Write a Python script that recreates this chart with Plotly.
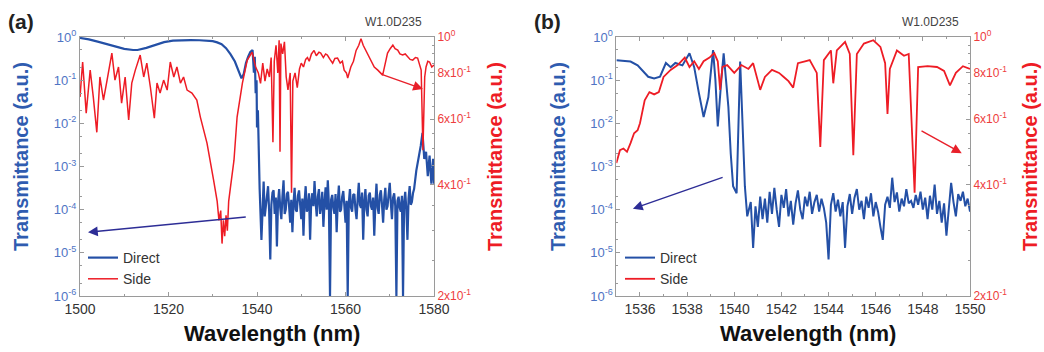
import plotly.graph_objects as go
import numpy as np

# ---------------- Panel (a) data ----------------
wl_a_direct = [1500, 1502, 1504, 1506, 1508, 1510, 1512, 1513, 1515, 1517, 1519, 1521, 1523, 1525,
               1527, 1529, 1530, 1531, 1532, 1533, 1534, 1535, 1535.8, 1536.5, 1537, 1537.5, 1538,
               1538.5, 1539, 1539.3, 1539.5, 1539.7, 1539.9, 1540.0, 1540.2, 1540.4, 1540.6,
               1541.0, 1541.25, 1541.5, 1541.75, 1542.0, 1542.25, 1542.5, 1542.75,
               1543.0, 1543.25, 1543.5, 1543.75, 1544.0, 1544.25, 1544.5, 1544.75,
               1545.0, 1545.25, 1545.5, 1545.75, 1546.0, 1546.25, 1546.5, 1546.75,
               1547.0, 1547.25, 1547.5, 1547.75, 1548.0, 1548.25, 1548.5, 1548.75,
               1549.0, 1549.25, 1549.5, 1549.75, 1550.0, 1550.25, 1550.5, 1550.75,
               1551.0, 1551.25, 1551.5, 1551.75, 1552.0, 1552.25, 1552.5, 1552.75,
               1553.0, 1553.25, 1553.5, 1553.75, 1554.0, 1554.25, 1554.5, 1554.75,
               1555.0, 1555.25, 1555.5, 1555.75, 1556.0, 1556.25, 1556.5, 1556.75,
               1557.0, 1557.25, 1557.5, 1557.75, 1558.0, 1558.25, 1558.5, 1558.75,
               1559.0, 1559.25, 1559.5, 1559.75, 1560.0, 1560.25, 1560.5, 1560.75,
               1561.0, 1561.25, 1561.5, 1561.75, 1562.0, 1562.25, 1562.5, 1562.75,
               1563.0, 1563.25, 1563.5, 1563.75, 1564.0, 1564.25, 1564.5, 1564.75,
               1565.0, 1565.25, 1565.5, 1565.75, 1566.0, 1566.25, 1566.5, 1566.75,
               1567.0, 1567.25, 1567.5, 1567.75, 1568.0, 1568.25, 1568.5, 1568.75,
               1569.0, 1569.25, 1569.5, 1569.75, 1570.0, 1570.25, 1570.5, 1570.75,
               1571.0, 1571.25, 1571.5, 1571.75, 1572.0, 1572.25, 1572.5, 1572.75,
               1573.0, 1573.25, 1573.5, 1573.75, 1574.0, 1574.25, 1574.5, 1574.75,
               1575.0, 1575.25, 1575.5,
               1576.0, 1576.5, 1577.0, 1577.4, 1577.8, 1578.2, 1578.6, 1579.0, 1579.4, 1579.8, 1580.0]
t_a_direct = [0.95, 0.88, 0.78, 0.68, 0.60, 0.53, 0.50, 0.50, 0.56, 0.66, 0.76, 0.82, 0.85, 0.85,
              0.84, 0.82, 0.80, 0.75, 0.68, 0.55, 0.40, 0.27, 0.17, 0.11, 0.14, 0.25, 0.35,
              0.45, 0.50, 0.15, 0.35, 0.05, 0.10, 0.008, 0.02, 8e-4, 3e-4,
              2.0e-5, 1.6e-4, 4.5e-4, 7e-5, 1.2e-4, 2.2e-4, 3.5e-4, 9e-5,
              7e-6, 1.3e-4, 2.5e-4, 2.8e-4, 8e-5, 1.9e-4, 1.4e-5, 1.5e-4,
              3.0e-4, 1.1e-4, 6e-5, 2.0e-4, 4.8e-4, 8e-5, 1.0e-4, 2.3e-4,
              2.6e-4, 1.2e-4, 5e-5, 1.7e-4, 3e-5, 1.4e-4, 3.2e-4, 1.0e-4,
              9e-5, 2.1e-4, 2.8e-4, 1.3e-4, 6e-5, 1.8e-4, 2.5e-5, 1.5e-4,
              3.5e-4, 9e-5, 1.1e-4, 2.4e-4, 2e-5, 1.6e-4, 2.4e-4, 1.2e-4,
              4.6e-4, 1.5e-4, 7e-5, 2.0e-4, 3.0e-4, 8e-5, 1.2e-4, 2.6e-4,
              4e-5, 1.4e-4, 3.3e-4, 1.0e-4, 4.8e-4, 1.3e-4, 1e-6, 1.7e-4,
              2.2e-4, 1.1e-4, 8e-5, 2.3e-4, 3e-5, 1.5e-4, 3.6e-4, 9e-5,
              1.0e-4, 2.0e-4, 2.7e-4, 1.2e-4, 5e-5, 1.6e-4, 1e-6, 1.4e-4,
              3.0e-4, 1.1e-4, 9e-5, 2.2e-4, 2.3e-4, 1.0e-4, 6e-5, 1.8e-4,
              4.2e-4, 1.3e-4, 1.1e-4, 2.5e-4, 2e-5, 1.5e-4, 3.0e-4, 1.0e-4,
              7e-5, 2.1e-4, 2.5e-4, 1.2e-4, 1.0e-4, 1.9e-4, 2.5e-5, 1.4e-4,
              4.0e-4, 1.1e-4, 8e-5, 2.2e-4, 2.8e-4, 1.3e-4, 5e-5, 1.7e-4,
              3.2e-4, 1.0e-4, 1.2e-4, 2.3e-4, 4.2e-4, 1.4e-4, 6e-5, 1.9e-4,
              2.4e-4, 1.2e-4, 1e-6, 1.6e-4, 2.0e-4, 1.1e-4, 9e-5, 2.1e-4,
              1e-6, 1.5e-4, 2.6e-4, 1.0e-4, 2e-5, 1.8e-4, 3.5e-4, 1.3e-4,
              1.5e-4, 2.4e-4, 3.0e-4,
              8e-4, 1.5e-3, 3e-3, 6e-3, 1.5e-3, 2.2e-3, 6e-4, 1.8e-3, 4e-4, 1.5e-3, 4e-4]

wl_a_side = [1500.0, 1500.6, 1501.4, 1502.3, 1503.0, 1503.8, 1504.5, 1505.3, 1506.0, 1507.2, 1507.9,
             1508.7, 1509.4, 1510.2, 1511.0, 1511.7, 1512.5, 1513.6, 1514.4, 1515.1, 1515.9, 1516.8,
             1517.4, 1518.1, 1518.9, 1519.7, 1520.4, 1521.2, 1521.9, 1522.7, 1523.4, 1524.2, 1525.3,
             1526.4, 1527.2, 1528.7, 1530.2, 1531.0, 1531.4, 1531.8, 1532.1, 1532.4, 1532.7, 1533.0,
             1533.3, 1533.6, 1534.0, 1534.8, 1535.5, 1536.7, 1537.8, 1538.9, 1539.7,
             1540.3, 1540.8, 1541.3, 1541.8, 1542.3, 1542.8, 1543.2, 1543.6, 1543.9, 1544.3, 1544.7,
             1545.0, 1545.2, 1545.4, 1545.8, 1546.2, 1546.6, 1547.0, 1547.5, 1547.8, 1548.1, 1548.6,
             1549.1, 1549.6,
             1550.0, 1550.5, 1551.0, 1551.4, 1551.8, 1552.3, 1552.9, 1553.4, 1554.0, 1554.4, 1555.0,
             1555.5, 1555.9, 1556.5, 1557.1, 1557.6, 1558.2, 1558.8, 1559.3, 1559.7, 1560.2, 1560.5,
             1561.2, 1561.8, 1562.4, 1563.0, 1563.5, 1564.0, 1564.6, 1565.2, 1565.8, 1566.5, 1567.3,
             1567.9, 1568.4, 1569.0, 1569.5, 1570.1, 1570.7, 1571.2, 1571.8, 1572.3, 1572.9, 1573.5,
             1574.1, 1574.6, 1575.2, 1575.8, 1576.3, 1576.8, 1577.1, 1577.5, 1577.9, 1578.2, 1578.6,
             1579.0, 1579.5, 1580.0]
s_a_side = [0.689, 0.856, 0.623, 0.814, 0.689, 0.553, 0.780, 0.676, 0.751, 0.905, 0.765,
            0.830, 0.663, 0.780, 0.597, 0.751, 0.814, 0.894, 0.780, 0.850, 0.733, 0.604,
            0.751, 0.706, 0.765, 0.719, 0.856, 0.780, 0.830, 0.751, 0.780, 0.719, 0.706,
            0.676, 0.608, 0.517, 0.410, 0.360, 0.320, 0.340, 0.277, 0.320, 0.290, 0.330,
            0.300, 0.360, 0.393, 0.465, 0.608, 0.751, 0.866, 0.910, 0.830,
            0.800, 0.750, 0.850, 0.760, 0.820, 0.780, 0.880, 0.520, 0.860, 0.950, 0.800,
            0.980, 0.490, 0.960, 0.900, 0.970, 0.780, 0.720, 0.800, 0.380, 0.760, 0.800,
            0.730, 0.820,
            0.850, 0.830, 0.870, 0.880, 0.860, 0.900, 0.920, 0.890, 0.910, 0.905, 0.880,
            0.900, 0.894, 0.870, 0.850, 0.875, 0.877, 0.850, 0.860, 0.814, 0.800, 0.775,
            0.830, 0.860, 0.920, 0.950, 0.990, 0.950, 0.920, 0.890, 0.856, 0.830, 0.814,
            0.800, 0.789, 0.850, 0.905, 0.930, 0.951, 0.930, 0.922, 0.900, 0.894, 0.900,
            0.883, 0.870, 0.866, 0.880, 0.877, 0.840, 0.814, 0.495, 0.780, 0.830, 0.860,
            0.856, 0.830, 0.840]

# ---------------- Panel (b) data ----------------
wl_b_direct = [1535.0, 1535.3, 1535.6, 1535.9, 1536.1, 1536.35, 1536.6, 1536.85, 1537.1, 1537.3,
               1537.5, 1537.8, 1538.1, 1538.3, 1538.5, 1538.7, 1538.9, 1539.1, 1539.2, 1539.3,
               1539.45, 1539.55, 1539.65, 1539.75, 1539.85, 1539.95, 1540.1, 1540.25, 1540.35,
               1540.45, 1540.55,
               1540.7, 1540.8, 1540.9,
               1541.0, 1541.1, 1541.2, 1541.3, 1541.4, 1541.5, 1541.6, 1541.7, 1541.8, 1541.9,
               1542.0, 1542.1, 1542.2, 1542.3, 1542.4, 1542.5, 1542.6, 1542.7, 1542.8, 1542.9,
               1543.0, 1543.1, 1543.2, 1543.3, 1543.4, 1543.5, 1543.6, 1543.7, 1543.8, 1543.9,
               1544.0, 1544.1, 1544.2, 1544.3, 1544.4, 1544.5, 1544.6, 1544.7, 1544.8, 1544.9,
               1545.0, 1545.1, 1545.2, 1545.3, 1545.4, 1545.5, 1545.6, 1545.7, 1545.8, 1545.9,
               1546.0, 1546.1, 1546.2, 1546.3, 1546.4, 1546.5, 1546.6, 1546.7, 1546.8, 1546.9,
               1547.0, 1547.1, 1547.2, 1547.3, 1547.4, 1547.5, 1547.6, 1547.7, 1547.8, 1547.9,
               1548.0, 1548.1, 1548.2, 1548.3, 1548.4, 1548.5, 1548.6, 1548.7, 1548.8, 1548.9,
               1549.0, 1549.1, 1549.2, 1549.3, 1549.4, 1549.5, 1549.6, 1549.7, 1549.8, 1549.9,
               1550.0]
t_b_direct = [0.29, 0.28, 0.27, 0.22, 0.17, 0.12, 0.11, 0.12, 0.25, 0.20,
              0.25, 0.22, 0.42, 0.20, 0.05, 0.014, 0.04, 0.50, 0.10, 0.0085,
              0.10, 0.42, 0.10, 0.024, 0.002, 3.5e-4, 2.4e-4, 0.27, 0.01,
              3.5e-4, 7e-5,
              1.5e-4, 1.3e-5, 1.2e-4,
              4e-5, 2.0e-4, 6e-5, 1.8e-4, 5e-5, 2.6e-4, 8e-5, 3.2e-4, 1.0e-4, 4e-5,
              2.2e-4, 1.1e-4, 3.0e-4, 7e-5, 1.6e-4, 4.5e-5, 1.4e-4, 2.8e-4, 1.0e-4, 6e-5,
              2.0e-4, 1.2e-4, 2.6e-4, 8e-5, 1.5e-4, 2.2e-4, 9e-5, 1.8e-4, 1.1e-4, 5e-5,
              7e-6, 1.3e-4, 2.4e-4, 9e-5, 1.7e-4, 7e-5, 1.5e-4, 1.3e-5, 1.2e-4, 2.3e-4,
              8e-5, 1.9e-4, 3.0e-4, 1.0e-4, 1.6e-4, 6e-5, 2.0e-4, 1.1e-4, 2.4e-4, 7e-5,
              1.5e-4, 9e-5, 4e-5, 2e-5, 1.3e-4, 2.0e-4, 1.1e-4, 5.5e-4, 1.5e-4, 2.5e-4,
              9e-5, 1.8e-4, 1.2e-4, 3.0e-4, 1.4e-4, 1.6e-4, 1.1e-4, 2.2e-4, 1.3e-4, 2.6e-4,
              1.0e-4, 1.9e-4, 6e-5, 2.1e-4, 1.0e-4, 3.8e-4, 8e-5, 1.6e-4, 5e-5, 1.4e-4,
              2.5e-5, 1.2e-4, 4.2e-4, 1.5e-4, 7e-5, 2.3e-4, 1.6e-4, 2.6e-4, 1.2e-4, 1.8e-4,
              9e-5]

wl_b_side = [1535.0, 1535.15, 1535.3, 1535.45, 1535.6, 1535.75, 1535.9, 1536.0, 1536.2, 1536.4,
             1536.6, 1536.8, 1537.0, 1537.3, 1537.6, 1537.9, 1538.1, 1538.3, 1538.5, 1538.7,
             1538.95, 1539.15, 1539.3, 1539.4, 1539.5, 1539.7, 1540.0, 1540.3, 1540.6, 1540.8,
             1541.1, 1541.3, 1541.6, 1541.9, 1542.1, 1542.3, 1542.5, 1542.7, 1543.0, 1543.2,
             1543.5, 1543.65, 1543.8, 1544.1, 1544.2, 1544.35, 1544.7, 1544.9, 1545.05, 1545.2,
             1545.5, 1545.9, 1546.2, 1546.4, 1546.5, 1546.6, 1546.9, 1547.2, 1547.4, 1547.65,
             1547.8, 1548.2, 1548.6, 1548.9, 1549.15, 1549.4, 1549.7, 1550.0]
s_b_side = [0.457, 0.495, 0.500, 0.490, 0.517, 0.550, 0.560, 0.585, 0.675, 0.710,
            0.700, 0.710, 0.780, 0.815, 0.840, 0.880, 0.830, 0.860, 0.820, 0.860,
            0.880, 0.905, 0.860, 0.720, 0.830, 0.840, 0.800, 0.840, 0.820, 0.850,
            0.720, 0.780, 0.815, 0.800, 0.780, 0.760, 0.730, 0.850, 0.860, 0.866,
            0.800, 0.505, 0.866, 0.920, 0.750, 0.920, 0.970, 0.900, 0.480, 0.900,
            0.960, 0.980, 0.940, 0.850, 0.620, 0.820, 0.920, 0.890, 0.900, 0.380,
            0.830, 0.834, 0.830, 0.810, 0.740, 0.800, 0.834, 0.820]

left_tickvals = [1, 1e-1, 1e-2, 1e-3, 1e-4, 1e-5, 1e-6]
left_ticktext = ["10<sup>0</sup>", "10<sup>-1</sup>", "10<sup>-2</sup>", "10<sup>-3</sup>",
                 "10<sup>-4</sup>", "10<sup>-5</sup>", "10<sup>-6</sup>"]
right_tickvals = [1.0, 0.8, 0.6, 0.4, 0.2]
right_ticktext = ["10<sup>0</sup>", "8x10<sup>-1</sup>", "6x10<sup>-1</sup>",
                  "4x10<sup>-1</sup>", "2x10<sup>-1</sup>"]
xticks_a = [1500, 1520, 1540, 1560, 1580]
xticks_b = [1536, 1538, 1540, 1542, 1544, 1546, 1548, 1550]

BLUE = "#2450a6"
RED = "#ee1c25"
BLUE_TXT = "#2f5cb0"
BLUE_TICK = "#4f74c4"
RED_TICK = "#ee3d3d"
FRAME = "#9a9a9a"
FONT = "Liberation Sans, Arial, sans-serif"

W, H = 1044, 352
def px(x):
    return x / W
def py(y):
    return 1 - y / H

fig = go.Figure()
fig.add_trace(go.Scatter(x=wl_a_direct, y=t_a_direct, mode="lines", name="Direct",
                         line=dict(color=BLUE, width=2.2), xaxis="x", yaxis="y", legend="legend"))
fig.add_trace(go.Scatter(x=wl_a_side, y=s_a_side, mode="lines", name="Side",
                         line=dict(color=RED, width=1.5), xaxis="x", yaxis="y2", legend="legend"))
fig.add_trace(go.Scatter(x=wl_b_direct, y=t_b_direct, mode="lines", name="Direct",
                         line=dict(color=BLUE, width=2.0), xaxis="x2", yaxis="y3", legend="legend2"))
fig.add_trace(go.Scatter(x=wl_b_side, y=s_b_side, mode="lines", name="Side",
                         line=dict(color=RED, width=1.8), xaxis="x2", yaxis="y4", legend="legend2"))

dom_y = [py(296), py(37)]
xcommon = dict(showline=True, linecolor=FRAME, linewidth=1, mirror="ticks", ticks="inside",
               ticklen=4, tickcolor=FRAME, showgrid=False, zeroline=False, automargin=False,
               tickfont=dict(family=FONT, size=14, color="#333333"))
ylcommon = dict(type="log", range=[-6, 0], showline=True, linecolor=FRAME, ticks="inside",
                ticklen=4, tickcolor=FRAME, showgrid=False, zeroline=False, automargin=False,
                tickvals=left_tickvals, ticktext=left_ticktext,
                tickfont=dict(family=FONT, size=13, color=BLUE_TICK),
                minor=dict(ticks="inside", ticklen=2, tickcolor=FRAME, showgrid=False))
yrcommon = dict(type="log", range=[np.log10(0.2), 0], showline=True, linecolor=FRAME,
                ticks="inside", ticklen=4, tickcolor=FRAME, showgrid=False, zeroline=False,
                automargin=False,
                tickvals=right_tickvals, ticktext=right_ticktext, side="right",
                tickfont=dict(family=FONT, size=12, color=RED_TICK),
                minor=dict(ticks="inside", ticklen=2, tickcolor=FRAME, showgrid=False,
                           tickvals=[0.25, 0.3, 0.35, 0.45, 0.5, 0.55, 0.65, 0.7, 0.75, 0.85, 0.9, 0.95]))

fig.update_layout(
    template="none",
    width=W, height=H, margin=dict(l=0, r=0, t=0, b=0, autoexpand=False),
    paper_bgcolor="white", plot_bgcolor="white",
    xaxis=dict(domain=[px(80), px(434)], range=[1500, 1580], anchor="y",
               tickvals=xticks_a, minor=dict(ticks="inside", ticklen=2, dtick=10, tickcolor=FRAME),
               **xcommon),
    yaxis=dict(domain=dom_y, anchor="x", **ylcommon),
    yaxis2=dict(domain=dom_y, anchor="x", overlaying="y", **yrcommon),
    xaxis2=dict(domain=[px(616.4), px(970)], range=[1535, 1550], anchor="y3",
                tickvals=xticks_b, minor=dict(ticks="inside", ticklen=2, dtick=1, tickcolor=FRAME),
                **xcommon),
    yaxis3=dict(domain=dom_y, anchor="x2", **ylcommon),
    yaxis4=dict(domain=dom_y, anchor="x2", overlaying="y3", **yrcommon),
    legend=dict(x=px(83), y=py(242), xanchor="left", yanchor="top", bgcolor="rgba(0,0,0,0)",
                font=dict(family=FONT, size=14, color="#333333"), tracegroupgap=0,
                itemwidth=30),
    legend2=dict(x=px(620), y=py(242), xanchor="left", yanchor="top", bgcolor="rgba(0,0,0,0)",
                 font=dict(family=FONT, size=14, color="#333333"), tracegroupgap=0,
                 itemwidth=30),
    showlegend=True,
)

ann = []
def txt(x, y, text, size, color, bold=False, angle=0):
    ann.append(dict(x=px(x), y=py(y), xref="paper", yref="paper", text=(f"<b>{text}</b>" if bold else text),
                    showarrow=False, textangle=angle, xanchor="center", yanchor="middle",
                    font=dict(family=FONT, size=size, color=color)))

txt(21, 21, "(a)", 21, "#222222", bold=True)
txt(547, 21, "(b)", 21, "#222222", bold=True)
txt(393, 22, "W1.0D235", 12, "#444444")
txt(930, 22, "W1.0D235", 12, "#444444")
txt(21, 157, "Transmittance (a.u.)", 20, BLUE_TXT, bold=True, angle=-90)
txt(558, 157, "Transmittance (a.u.)", 20, BLUE_TXT, bold=True, angle=-90)
txt(495, 157, "Transmittance (a.u.)", 20, RED, bold=True, angle=-90)
txt(1030, 157, "Transmittance (a.u.)", 20, RED, bold=True, angle=-90)
txt(272, 333, "Wavelength (nm)", 22, "#111111", bold=True)
txt(808, 333, "Wavelength (nm)", 22, "#111111", bold=True)

# arrows (coordinates in axis units; log axes use log10)
def arrow(xr, yr, x0, y0, x1, y1, color):
    ann.append(dict(x=x1, y=y1, ax=x0, ay=y0, xref=xr, yref=yr, axref=xr, ayref=yr,
                    text="", showarrow=True, arrowhead=2, arrowsize=1.4, arrowwidth=1.4,
                    arrowcolor=color))

arrow("x", "y", 1537.8, np.log10(6.8e-5), 1501.8, np.log10(3.0e-5), "#2d2d96")
arrow("x", "y2", 1568.0, -0.100, 1577.5, -0.1405, "#e8202a")
arrow("x2", "y3", 1539.57, -3.24, 1535.7, -3.98, "#2d2d96")
arrow("x2", "y4", 1547.88, -0.251, 1549.65, -0.3135, "#e8202a")

fig.update_layout(annotations=ann)
fig.write_html("out.html", config={"displayModeBar": False},
               post_script="document.body.style.margin='0';document.body.style.overflow='hidden';")
